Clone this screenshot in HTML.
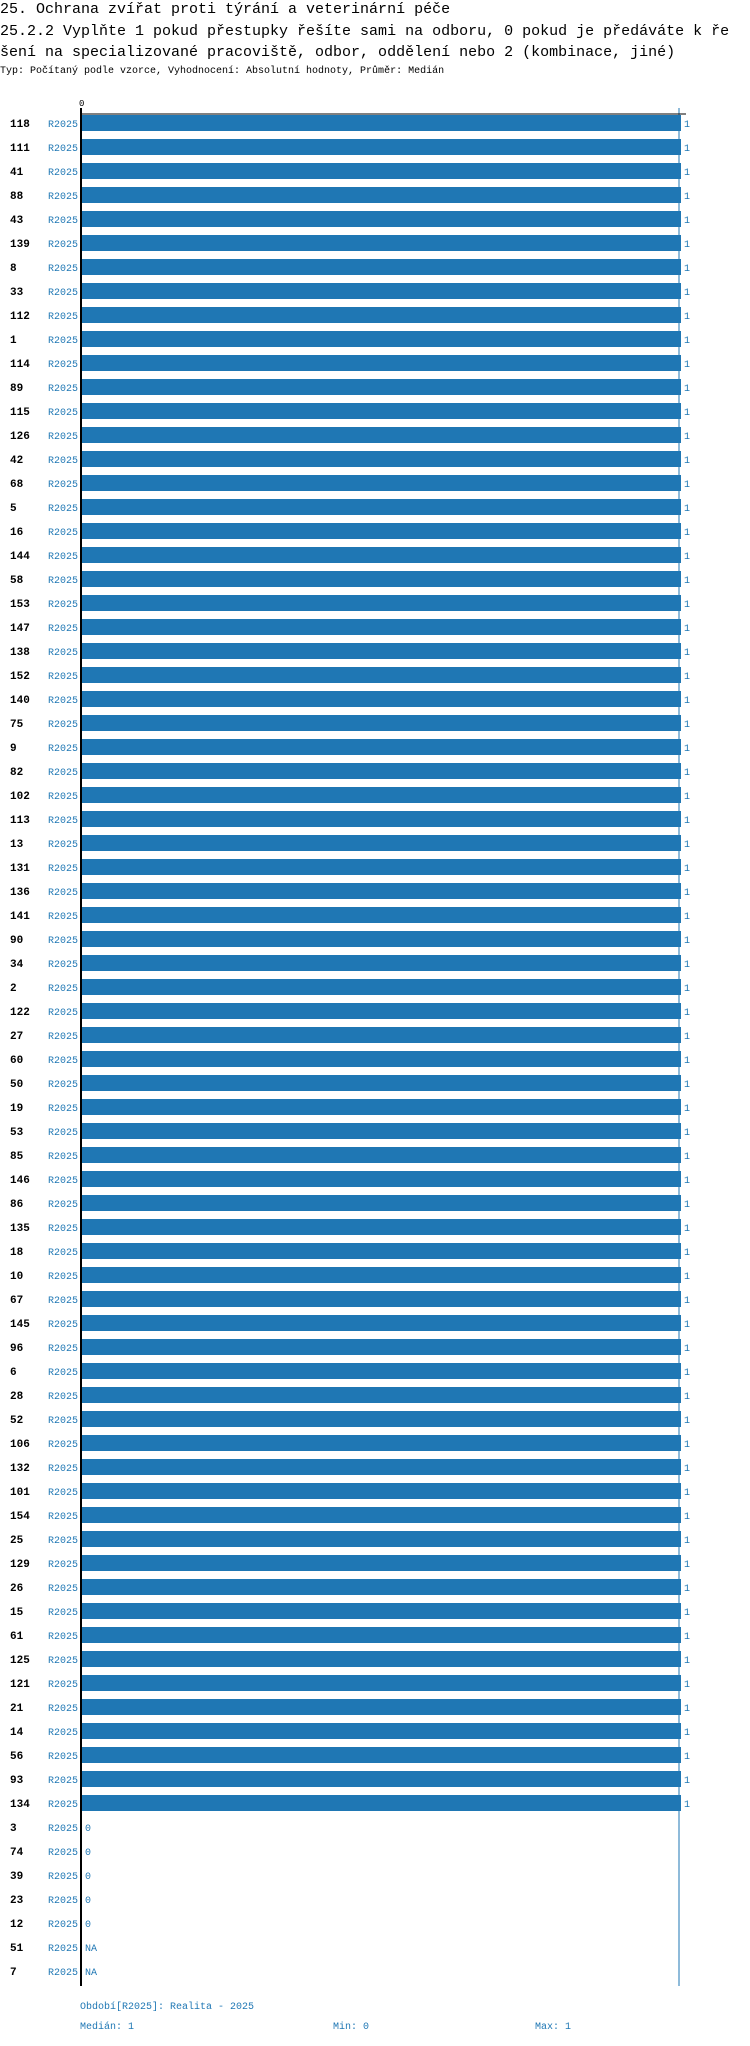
<!DOCTYPE html>
<html><head><meta charset="utf-8"><style>
body{margin:0;background:#fff;width:750px;height:2046px;overflow:hidden;position:relative;font-family:"Liberation Mono",monospace}
.t{position:absolute;left:0;font-size:15px;color:#000;white-space:nowrap;line-height:20px}
.s{position:absolute;left:0;font-size:10px;color:#000;white-space:nowrap}
.f{position:absolute;font-size:10px;color:#1f77b4;white-space:nowrap}
</style></head><body>
<div class="t" style="top:0">25. Ochrana zvířat proti týrání a veterinární péče</div>
<div class="t" style="top:22px">25.2.2 Vyplňte 1 pokud přestupky řešíte sami na odboru, 0 pokud je předáváte k ře</div>
<div class="t" style="top:43px">šení na specializované pracoviště, odbor, oddělení nebo 2 (kombinace, jiné)</div>
<div class="s" style="top:66px">Typ: Počítaný podle vzorce, Vyhodnocení: Absolutní hodnoty, Průměr: Medián</div>
<svg id="c" width="750" height="2046" style="position:absolute;left:0;top:0"></svg>
<div class="f" style="left:80px;top:2002px">Období[R2025]: Realita - 2025</div>
<div class="f" style="left:80px;top:2022px">Medián: 1</div>
<div class="f" style="left:333px;top:2022px">Min: 0</div>
<div class="f" style="left:535px;top:2022px">Max: 1</div>
<script>
const categories=[118,111,41,88,43,139,8,33,112,1,114,89,115,126,42,68,5,16,144,58,153,147,138,152,140,75,9,82,102,113,13,131,136,141,90,34,2,122,27,60,50,19,53,85,146,86,135,18,10,67,145,96,6,28,52,106,132,101,154,25,129,26,15,61,125,121,21,14,56,93,134,3,74,39,23,12,51,7];
const values=[1,1,1,1,1,1,1,1,1,1,1,1,1,1,1,1,1,1,1,1,1,1,1,1,1,1,1,1,1,1,1,1,1,1,1,1,1,1,1,1,1,1,1,1,1,1,1,1,1,1,1,1,1,1,1,1,1,1,1,1,1,1,1,1,1,1,1,1,1,1,1,0,0,0,0,0,null,null];
const periods=["R2025"];
const xTicks=[0];
const NS="http://www.w3.org/2000/svg";
const svg=document.getElementById('c');
const x=v=>82+v*599;
const y=i=>123+i*24;
function mk(t,a){const e=document.createElementNS(NS,t);for(const k in a)e.setAttribute(k,a[k]);svg.appendChild(e);return e;}
const rl=mk('line',{x1:679,y1:108,x2:679,y2:1986,stroke:'#1f77b4','stroke-width':1});


categories.forEach((c,i)=>{
  const lb=mk('text',{x:10,y:y(i)+4,'font-family':'Liberation Mono, monospace','font-size':11,'font-weight':'bold',fill:'#000'});
  lb.textContent=c;
  
  
  const pl=mk('text',{x:48,y:y(i)+4,'font-family':'Liberation Mono, monospace','font-size':10,fill:'#1f77b4'});
  pl.textContent=periods[0];
  
  
  const v=values[i];
  if(v!==null&&v>0){
    const r=mk('rect',{x:x(0),y:y(i)-8,width:x(v)-x(0),height:16,fill:'#1f77b4'});
    
    
  }
  const vt=mk('text',{x:(v?x(v):x(0))+3,y:y(i)+4,'font-family':'Liberation Mono, monospace','font-size':10,fill:'#1f77b4'});
  vt.textContent=v===null?'NA':v;
  
  
});
const ha=mk('line',{x1:81,y1:114,x2:686,y2:114,stroke:'#000','stroke-width':1});


const va=mk('line',{x1:81,y1:108,x2:81,y2:1986,stroke:'#000','stroke-width':2});


xTicks.forEach(t=>{
  const tx=mk('text',{x:x(t)-3,y:106,'font-family':'Liberation Mono, monospace','font-size':9,fill:'#000'});
  tx.textContent=t;
  
  
});
</script>
</body></html>
